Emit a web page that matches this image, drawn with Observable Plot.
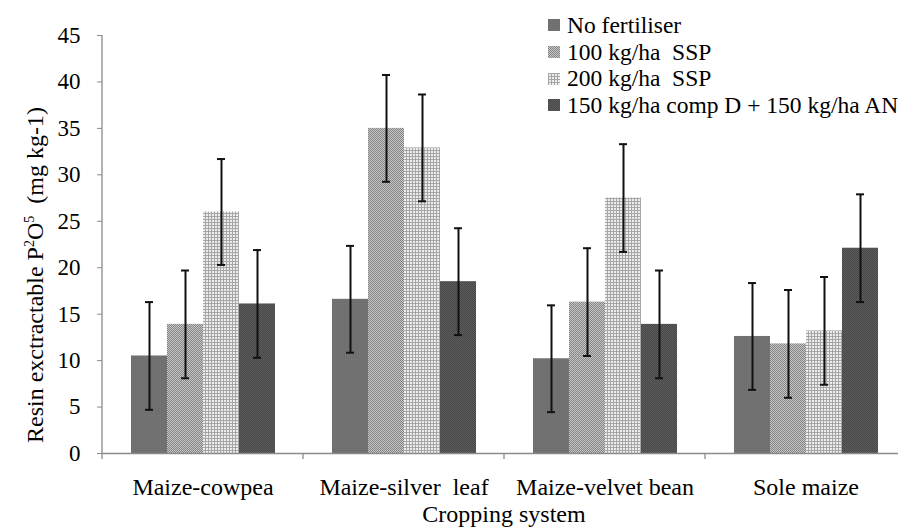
<!DOCTYPE html>
<html><head><meta charset="utf-8">
<script src="https://cdn.jsdelivr.net/npm/d3@7"></script>
<script src="https://cdn.jsdelivr.net/npm/@observablehq/plot@0.6"></script>
<style>
html,body{margin:0;padding:0;background:#fff;overflow:hidden}
#wrap{position:relative;width:898px;height:528px;overflow:hidden}
#chart svg{max-width:none !important;height:528px !important;display:block}
#wrap svg text{white-space:pre}
#legend{position:absolute;left:548px;top:12px;font-family:"Liberation Serif",serif;font-size:23.5px;color:#000;white-space:pre}
#legend .row{height:26.7px;line-height:26.7px;display:flex;align-items:center}
#legend svg{margin-right:7px;flex:none}
</style></head>
<body><div id="wrap"><div id="chart"></div><div id="legend"></div></div>
<script>
// ---- data ----
const systems = ["Maize-cowpea", "Maize-silver  leaf", "Maize-velvet bean", "Sole maize"];
const treatments = ["No fertiliser", "100 kg/ha  SSP", "200 kg/ha  SSP", "150 kg/ha comp D + 150 kg/ha AN"];
const noFertiliser = [10.5, 16.6, 10.2, 12.6];
const ssp100 = [13.9, 35.0, 16.3, 11.8];
const ssp200 = [26.0, 32.9, 27.5, 13.2];
const compAN = [16.1, 18.5, 13.9, 22.1];
const errNoFertiliser = [5.8, 5.75, 5.75, 5.75];
const errSsp100 = [5.8, 5.75, 5.8, 5.8];
const errSsp200 = [5.7, 5.75, 5.8, 5.8];
const errCompAN = [5.8, 5.75, 5.8, 5.8];
const yTicks = [0, 5, 10, 15, 20, 25, 30, 35, 40, 45];

const series = [noFertiliser, ssp100, ssp200, compAN];
const errors = [errNoFertiliser, errSsp100, errSsp200, errCompAN];
const rows = [];
systems.forEach((s, i) => treatments.forEach((t, j) =>
  rows.push({system: s, treatment: t, value: series[j][i], err: errors[j][i]})));

const patternIds = ["pat0", "pat1", "pat2", "pat3"];
const axisGray = "#8a8a8a";

const plot = Plot.plot({
  width: 907, height: 528,
  marginLeft: 101, marginRight: 0, marginTop: 35, marginBottom: 75,
  style: {fontFamily: "Liberation Serif, serif", fontSize: "23px", color: "#000", background: "transparent"},
  fx: {domain: systems, padding: 0, label: null},
  x: {domain: treatments, paddingInner: 0, paddingOuter: 0.735, axis: null},
  y: {domain: [0, 45], label: null},
  color: {domain: treatments, range: patternIds.map(id => `url(#${id})`)},
  marks: [
    Plot.barY(rows, {fx: "system", x: "treatment", y: "value", fill: "treatment"}),
    Plot.ruleX(rows, {fx: "system", x: "treatment", y1: d => d.value - d.err, y2: d => d.value + d.err, stroke: "#111", strokeWidth: 2}),
    Plot.tickY(rows, {fx: "system", x: "treatment", y: d => d.value - d.err, stroke: "#111", strokeWidth: 2, inset: 14}),
    Plot.tickY(rows, {fx: "system", x: "treatment", y: d => d.value + d.err, stroke: "#111", strokeWidth: 2, inset: 14}),
    Plot.ruleY([0], {stroke: axisGray, strokeWidth: 1.3}),
    Plot.axisY({ticks: yTicks, tickSize: 5, tickPadding: 17, stroke: axisGray, fill: "#000", label: null, tickFormat: d => d}),
    Plot.axisFx({anchor: "bottom", tickSize: 0, tickPadding: 24, fontSize: 24, fill: "#000", label: null})
  ]
});
document.getElementById("chart").appendChild(plot);

// patterns
const svg = d3.select(plot);
const defs = svg.insert("defs", ":first-child");
const p0 = defs.append("pattern").attr("id", "pat0").attr("patternUnits", "userSpaceOnUse").attr("width", 2).attr("height", 2);
p0.append("rect").attr("width", 2).attr("height", 2).attr("fill", "#737373");
p0.append("rect").attr("width", 1).attr("height", 1).attr("fill", "#6a6a6a");
const p1 = defs.append("pattern").attr("id", "pat1").attr("patternUnits", "userSpaceOnUse").attr("width", 2).attr("height", 2);
p1.append("rect").attr("width", 2).attr("height", 2).attr("fill", "#c6c6c6");
p1.append("rect").attr("width", 1).attr("height", 1).attr("fill", "#828282");
p1.append("rect").attr("x", 1).attr("y", 1).attr("width", 1).attr("height", 1).attr("fill", "#868686");
const p2 = defs.append("pattern").attr("id", "pat2").attr("patternUnits", "userSpaceOnUse").attr("width", 3).attr("height", 3);
p2.append("rect").attr("width", 3).attr("height", 3).attr("fill", "#ececec");
p2.append("rect").attr("width", 3).attr("height", 1).attr("fill", "#a6a6a6");
p2.append("rect").attr("width", 1).attr("height", 3).attr("fill", "#a6a6a6");
const p3 = defs.append("pattern").attr("id", "pat3").attr("patternUnits", "userSpaceOnUse").attr("width", 2).attr("height", 2);
p3.append("rect").attr("width", 2).attr("height", 2).attr("fill", "#5c5c5c");
p3.append("rect").attr("width", 1).attr("height", 1).attr("fill", "#464646");
p3.append("rect").attr("x", 1).attr("y", 1).attr("width", 1).attr("height", 1).attr("fill", "#4a4a4a");

// y axis line and category boundary ticks, placed from the library's scales
const fx = plot.scale("fx"), y = plot.scale("y");
const y0 = y.apply(0), yTop = y.apply(45);
const bounds = systems.map(s => fx.apply(s)).concat([fx.apply(systems[systems.length - 1]) + fx.bandwidth]);
const ag = svg.append("g").attr("stroke", axisGray).attr("stroke-width", 1.3);
ag.append("line").attr("x1", bounds[0]).attr("x2", bounds[0]).attr("y1", yTop).attr("y2", y0 + 6);
ag.selectAll("line.b").data(bounds.slice(1)).join("line").attr("class", "b")
  .attr("x1", d => d).attr("x2", d => d).attr("y1", y0).attr("y2", y0 + 6);

// axis titles
const yt = svg.append("text").attr("transform", "translate(43,275) rotate(-90)")
  .attr("text-anchor", "middle").attr("font-size", 24).attr("fill", "#000");
yt.append("tspan").text("Resin exctractable P");
yt.append("tspan").attr("font-size", 14).attr("dy", -9).text("2");
yt.append("tspan").attr("dy", 9).text("O");
yt.append("tspan").attr("font-size", 14).attr("dy", -9).text("5");
yt.append("tspan").attr("dy", 9).text("  (mg kg-1)");
const r = fx.range;
svg.append("text").attr("x", (r[0] + r[1]) / 2).attr("y", 522).attr("text-anchor", "middle")
  .attr("font-size", 24).attr("fill", "#000").text("Cropping system");

// legend
const legend = d3.select("#legend");
treatments.forEach((t, j) => {
  const row = legend.append("div").attr("class", "row");
  const s = row.append("svg").attr("width", 12).attr("height", 12);
  s.append("rect").attr("width", 12).attr("height", 12).attr("fill", `url(#${patternIds[j]})`);
  row.append("span").text(t);
});
</script></body></html>
